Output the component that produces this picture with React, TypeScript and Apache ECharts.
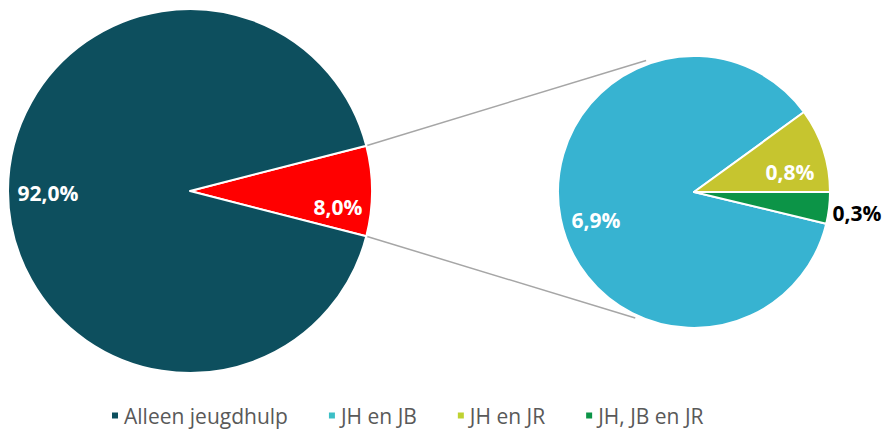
import React, { useEffect, useRef } from "react";
import * as echarts from "echarts";

const mainNames = ["Overig", "Alleen jeugdhulp"];
const mainValues = [8.0, 92.0];
const mainLabels = ["8,0%", "92,0%"];
const subNames = ["JH en JB", "JH en JR", "JH, JB en JR"];
const subValues = [6.9, 0.8, 0.3];
const subLabels = ["6,9%", "0,8%", "0,3%"];
const legendNames = ["Alleen jeugdhulp", "JH en JB", "JH en JR", "JH, JB en JR"];

const COLORS: Record<string, string> = {
  Overig: "#FF0000",
  "Alleen jeugdhulp": "#0D4F5E",
  "JH en JB": "#37B3D1",
  "JH en JR": "#C6C52F",
  "JH, JB en JR": "#0C9447",
};
const LEGEND_COLORS: Record<string, string> = {
  "Alleen jeugdhulp": "#0D4F5E",
  "JH en JB": "#3CBFC6",
  "JH en JR": "#BFD232",
  "JH, JB en JR": "#0C9447",
};

const C1 = [190, 191];
const R1 = 182;
const C2 = [694, 192];
const R2 = 136;

// label offsets (dx, dy) relative to pie center, per data index
const mainLabelPos = [[148, 16], [-142, 2]];
const subLabelPos = [[-98, 28], [96, -20], [163, 21]];

export default function App() {
  const ref = useRef<HTMLDivElement>(null);
  useEffect(() => {
    document.body.style.margin = "0";
    const chart = echarts.init(ref.current!, undefined, { renderer: "svg" });
    const half1 = (mainValues[0] / (mainValues[0] + mainValues[1])) * 180;
    const subTotal = subValues.reduce((a, b) => a + b, 0);
    const greenAng = (subValues[2] / subTotal) * 360;
    const rad = (d: number) => (d * Math.PI) / 180;
    const p1Top = [C1[0] + R1 * Math.cos(rad(half1)), C1[1] - R1 * Math.sin(rad(half1))];
    const p1Bot = [C1[0] + R1 * Math.cos(rad(half1)), C1[1] + R1 * Math.sin(rad(half1))];
    const p2Top = [C2[0] + (R2 + 4) * Math.cos(rad(110)), C2[1] - (R2 + 4) * Math.sin(rad(110))];
    const p2Bot = [C2[0] + (R2 + 3) * Math.cos(rad(245)), C2[1] - (R2 + 3) * Math.sin(rad(245))];
    const labelFont = { fontFamily: "Open Sans", fontWeight: "bold" as const, fontSize: 21 };
    chart.setOption({
      animation: false,
      backgroundColor: "#ffffff",
      legend: {
        data: legendNames.map((n) => ({ name: n, itemStyle: { color: LEGEND_COLORS[n] } })),
        top: 405,
        left: 110,
        padding: 0,
        icon: "rect",
        itemWidth: 8,
        itemHeight: 8,
        itemGap: 39,
        textStyle: { fontFamily: "Open Sans", fontSize: 21, color: "#595959" },
        selectedMode: false,
      },
      graphic: [
        { type: "line", shape: { x1: p1Top[0], y1: p1Top[1], x2: p2Top[0], y2: p2Top[1] }, style: { stroke: "#A6A6A6", lineWidth: 1.5 }, z: 0 },
        { type: "line", shape: { x1: p1Bot[0], y1: p1Bot[1], x2: p2Bot[0], y2: p2Bot[1] }, style: { stroke: "#A6A6A6", lineWidth: 1.5 }, z: 0 },
      ],
      series: [
        {
          type: "pie",
          center: C1,
          radius: [0, R1],
          startAngle: half1,
          clockwise: true,
          avoidLabelOverlap: false,
          itemStyle: { borderColor: "#ffffff", borderWidth: 2 },
          label: { show: true, position: "inside", color: "#ffffff", ...labelFont, formatter: (p: any) => mainLabels[p.dataIndex] },
          labelLine: { show: false },
          labelLayout: (p: any) => ({
            x: C1[0] + mainLabelPos[p.dataIndex][0],
            y: C1[1] + mainLabelPos[p.dataIndex][1],
            align: "center",
            verticalAlign: "middle",
          }),
          emphasis: { disabled: true },
          data: mainNames.map((n, i) => ({ name: n, value: mainValues[i], itemStyle: { color: COLORS[n] } })),
        },
        {
          type: "pie",
          center: C2,
          radius: [0, R2],
          startAngle: 360 - greenAng,
          clockwise: true,
          avoidLabelOverlap: false,
          itemStyle: { borderColor: "#ffffff", borderWidth: 2 },
          label: {
            show: true,
            position: "inside",
            ...labelFont,
            formatter: (p: any) => subLabels[p.dataIndex],
            color: "#ffffff",
          },
          labelLine: { show: false },
          labelLayout: (p: any) => ({
            x: C2[0] + subLabelPos[p.dataIndex][0],
            y: C2[1] + subLabelPos[p.dataIndex][1],
            align: "center",
            verticalAlign: "middle",
          }),
          emphasis: { disabled: true },
          data: subNames.map((n, i) => ({
            name: n,
            value: subValues[i],
            itemStyle: { color: COLORS[n] },
            label: i === 2 ? { color: "#000000" } : undefined,
          })),
        },
      ],
    });
    return () => chart.dispose();
  }, []);
  return <div ref={ref} style={{ width: 884, height: 432 }} />;
}
